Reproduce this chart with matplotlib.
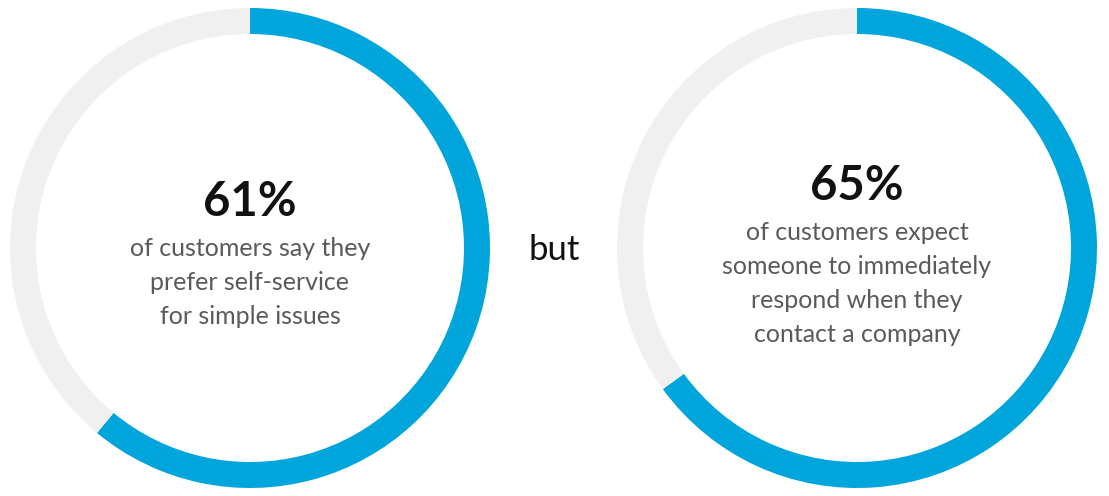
import matplotlib.pyplot as plt

# Data
shares = [61, 65]
numbers = ['61%', '65%']
captions = [
    ['of customers say they', 'prefer self-service', 'for simple issues'],
    ['of customers expect', 'someone to immediately', 'respond when they', 'contact a company'],
]
connector = 'but'

blue = '#00A5DC'
grey = '#F0F0F0'

W, H = 1109, 496
fig = plt.figure(figsize=(W / 100, H / 100), dpi=100)
ax = fig.add_axes([0, 0, 1, 1])

centers = [(250, 248), (857, 248)]
number_y = [202, 186]
caption_top = [248, 232]
line_step = 34

for share, num, lines, (cx, cy), ny, ty in zip(shares, numbers, captions, centers, number_y, caption_top):
    ax.pie([share, 100 - share], colors=[blue, grey], radius=240, center=(cx, cy),
           startangle=90, counterclock=False,
           wedgeprops=dict(width=26, linewidth=0))
    ax.text(cx, H - ny, num, ha='center', va='center', fontsize=34,
            fontweight='bold', family='Lato', color='#111111')
    for i, line in enumerate(lines):
        ax.text(cx, H - (ty + i * line_step), line, ha='center', va='center',
                fontsize=18, fontweight='normal', family='Lato', color='#5a5a5a')

ax.text(554, H - 250, connector, ha='center', va='center', fontsize=25,
        family='Lato', color='#111111')

ax.set_xlim(0, W)
ax.set_ylim(0, H)
ax.set_aspect('equal')
ax.axis('off')

fig.savefig('out.png', dpi=100)
